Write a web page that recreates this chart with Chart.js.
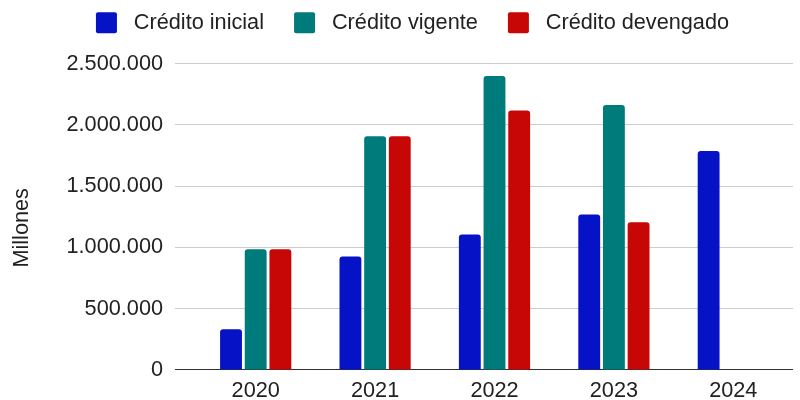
<!DOCTYPE html>
<html>
<head>
<meta charset="utf-8">
<script src="https://cdn.jsdelivr.net/npm/chart.js@4.4.1/dist/chart.umd.min.js"></script>
<style>
    html, body { margin: 0; padding: 0; background: #fff; }
    .chart_container { width: 800px; height: 400px; }
</style>
</head>
<body>
<div class="chart_container"><canvas id="chart_container" width="800" height="400"></canvas></div>
<script>
const years = ['2020', '2021', '2022', '2023', '2024'];
const creditoInicial = [333000, 926000, 1105000, 1268000, 1788000];
const creditoVigente = [985000, 1907000, 2400000, 2163000, null];
const creditoDevengado = [985000, 1907000, 2117000, 1206000, null];
const yTicks = [0, 500000, 1000000, 1500000, 2000000, 2500000];
const yTitle = 'Millones';

const FONT = "Arial, 'Liberation Sans', sans-serif";
const FONT_SIZE = 21.7;
const TEXT_COLOR = '#222222';

function formatMiles(value) {
    return String(value).replace(/\B(?=(\d{3})+(?!\d))/g, '.');
}

function legendLabels(chart) {
    // extra spaces only widen the gaps, the text stays the dataset label
    const items = Chart.defaults.plugins.legend.labels.generateLabels(chart);
    items.forEach((item, i) => {
        item.text = ' ' + item.text + (i < items.length - 1 ? '   ' : '');
    });
    return items;
}

// more room under the legend + nudge it a bit to the right
const legendSpacing = {
    id: 'legendSpacing',
    beforeInit(chart) {
        const fit = chart.legend.fit;
        chart.legend.fit = function () {
            fit.call(this);
            this.height += 20;
        };
    },
    afterLayout(chart) {
        chart.legend.left += 16;
        chart.legend.right += 16;
    }
};

// y axis title, centred a bit lower than the plot area like the original
const yTitlePlugin = {
    id: 'yTitle',
    afterDraw(chart) {
        const ctx = chart.ctx;
        ctx.save();
        ctx.translate(28, (chart.chartArea.top + chart.height) / 2 - 4);
        ctx.rotate(-Math.PI / 2);
        ctx.font = FONT_SIZE + 'px ' + FONT;
        ctx.fillStyle = TEXT_COLOR;
        ctx.textAlign = 'center';
        ctx.textBaseline = 'alphabetic';
        ctx.fillText(yTitle, 0, 0);
        ctx.restore();
    }
};

function createChart() {
    const ctx = document.getElementById('chart_container').getContext('2d');
    new Chart(ctx, {
        type: 'bar',
        data: {
            labels: years,
            datasets: [{
                label: 'Crédito inicial',
                data: creditoInicial,
                backgroundColor: '#0612c6',
            }, {
                label: 'Crédito vigente',
                data: creditoVigente,
                backgroundColor: '#007b7c',
            }, {
                label: 'Crédito devengado',
                data: creditoDevengado,
                backgroundColor: '#c70606',
            }]
        },
        plugins: [legendSpacing, yTitlePlugin],
        options: {
            responsive: false,
            animation: false,
            devicePixelRatio: 1,
            datasets: {
                bar: {
                    categoryPercentage: 0.62,
                    barPercentage: 0.886,
                    borderRadius: 3,
                    borderSkipped: 'start'
                }
            },
            layout: {
                padding: { top: 0, right: 7, bottom: -12, left: 0 }
            },
            plugins: {
                tooltip: { enabled: false },
                legend: {
                    position: 'top',
                    labels: {
                        boxWidth: 21,
                        boxHeight: 21,
                        useBorderRadius: true,
                        borderRadius: 2,
                        padding: 12,
                        color: TEXT_COLOR,
                        font: { family: FONT, size: FONT_SIZE },
                        generateLabels: legendLabels
                    }
                }
            },
            scales: {
                x: {
                    grid: { display: false, drawTicks: false },
                    border: { display: false },
                    ticks: {
                        color: TEXT_COLOR,
                        padding: 8,
                        font: { family: FONT, size: FONT_SIZE }
                    }
                },
                y: {
                    min: yTicks[0],
                    max: yTicks[yTicks.length - 1],
                    afterBuildTicks: function (axis) {
                        axis.ticks = yTicks.map(v => ({ value: v }));
                    },
                    afterFit: function (axis) {
                        axis.width = 196;
                    },
                    border: { display: false },
                    grid: {
                        tickLength: 21,
                        color: function (c) {
                            return c.tick && c.tick.value === 0 ? '#333333' : '#cccccc';
                        }
                    },
                    ticks: {
                        color: TEXT_COLOR,
                        padding: 12,
                        font: { family: FONT, size: FONT_SIZE },
                        callback: function (value) {
                            return formatMiles(value);
                        }
                    }
                }
            }
        }
    });
}

createChart();
</script>
</body>
</html>
